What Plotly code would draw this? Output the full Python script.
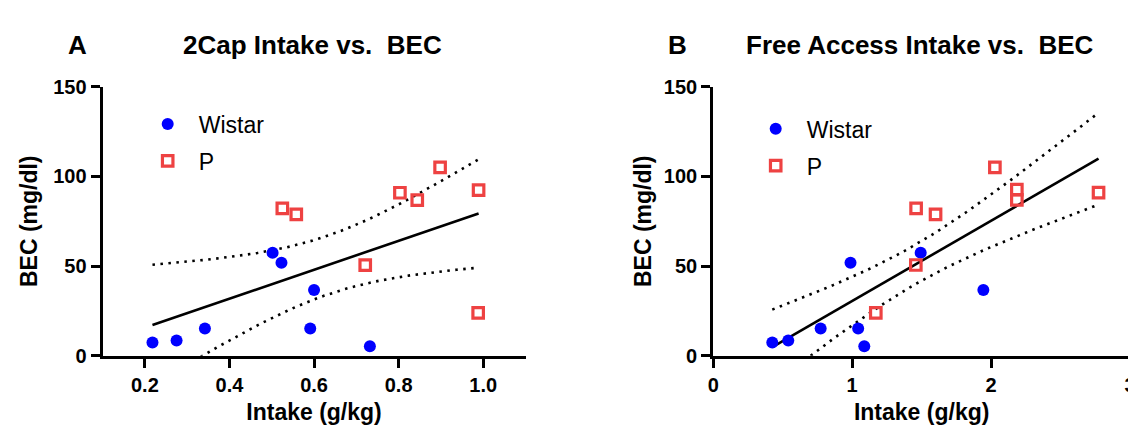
import numpy as np
import plotly.graph_objects as go

# ---------------- data ----------------
# Panel A: 2Cap intake (g/kg) vs BEC (mg/dl)
a_wistar_x = [0.218, 0.275, 0.342, 0.502, 0.523, 0.600, 0.591, 0.732]
a_wistar_y = [7.4, 8.5, 15.2, 57.4, 51.8, 36.6, 15.2, 5.3]
a_p_x = [0.525, 0.558, 0.803, 0.844, 0.898, 0.989, 0.721, 0.988]
a_p_y = [82.2, 78.9, 90.9, 86.8, 105.1, 92.4, 50.5, 23.9]

# Panel B: Free access intake (g/kg) vs BEC (mg/dl)
b_wistar_x = [0.425, 0.540, 0.773, 0.988, 1.043, 1.087, 1.493, 1.944]
b_wistar_y = [7.4, 8.5, 15.2, 51.8, 15.2, 5.3, 57.4, 36.6]
b_p_x = [1.460, 1.600, 2.027, 2.185, 2.185, 2.773, 1.458, 1.170]
b_p_y = [82.2, 78.9, 105.1, 92.6, 86.9, 91.0, 50.6, 23.9]

a_xticks = [0.2, 0.4, 0.6, 0.8, 1.0]
b_xticks = [0, 1, 2, 3]
y_ticks = [0, 50, 100, 150]

T_CRIT = 2.1448  # t(0.975, df=14)

W, H = 1136, 427
FONT = "Liberation Sans, Arial, sans-serif"
BLUE = "#0000FF"
RED = "#EE4242"


def fit_with_ci(xs, ys, n_pts=60):
    x = np.asarray(xs, float)
    y = np.asarray(ys, float)
    n = len(x)
    slope, intercept = np.polyfit(x, y, 1)
    resid = y - (slope * x + intercept)
    s = np.sqrt(np.sum(resid ** 2) / (n - 2))
    xbar = x.mean()
    sxx = np.sum((x - xbar) ** 2)
    xg = np.linspace(x.min(), x.max(), n_pts)
    yg = slope * xg + intercept
    half = T_CRIT * s * np.sqrt(1.0 / n + (xg - xbar) ** 2 / sxx)
    return xg, yg, yg - half, yg + half


fig = go.Figure()


def add_panel(wx, wy, px, py, xa, ya, legend):
    xs = list(wx) + list(px)
    ys = list(wy) + list(py)
    xg, yg, lo, hi = fit_with_ci(xs, ys)
    for band in (lo, hi):
        fig.add_trace(go.Scatter(x=xg, y=band, mode="lines", xaxis=xa, yaxis=ya,
                                 line=dict(color="black", width=2.6, dash="2.5px,5.5px"),
                                 showlegend=False, hoverinfo="skip"))
    fig.add_trace(go.Scatter(x=xg, y=yg, mode="lines", xaxis=xa, yaxis=ya,
                             line=dict(color="black", width=2.6),
                             showlegend=False, hoverinfo="skip"))
    fig.add_trace(go.Scatter(x=wx, y=wy, mode="markers", name="Wistar", xaxis=xa, yaxis=ya,
                             marker=dict(symbol="circle", size=12, color=BLUE),
                             legend=legend, legendgroup=legend + "w"))
    fig.add_trace(go.Scatter(x=px, y=py, mode="markers", name="P", xaxis=xa, yaxis=ya,
                             marker=dict(symbol="square-open", size=10.5, color=RED,
                                         line=dict(color=RED, width=3.2)),
                             legend=legend, legendgroup=legend + "p"))


add_panel(a_wistar_x, a_wistar_y, a_p_x, a_p_y, "x", "y", "legend")
add_panel(b_wistar_x, b_wistar_y, b_p_x, b_p_y, "x2", "y2", "legend2")

tickfont = dict(family=FONT, size=20, color="black", weight="bold")
titlefont = dict(family=FONT, size=23, color="black", weight="bold")

y_dom = [(H - 355) / H, (H - 71.5) / H]
common_axis = dict(showline=True, linewidth=3, linecolor="black", ticks="outside",
                   ticklen=9, tickwidth=3, tickcolor="black", showgrid=False,
                   zeroline=False, tickfont=tickfont, ticklabeloverflow="allow")

legend_font = dict(family=FONT, size=23, color="black")

fig.update_layout(
    width=W, height=H,
    margin=dict(l=0, r=0, t=0, b=0),
    paper_bgcolor="white", plot_bgcolor="white",
    showlegend=True,
    xaxis=dict(domain=[89.5 / W, 517 / W], range=[0.1, 1.1], tickvals=a_xticks,
               tickformat=".1f", anchor="y",
               title=dict(text="Intake (g/kg)", font=titlefont, standoff=10),
               **common_axis),
    yaxis=dict(domain=y_dom, range=[0, 150], tickvals=y_ticks, anchor="x",
               title=dict(text="BEC (mg/dl)", font=titlefont, standoff=10),
               **common_axis),
    xaxis2=dict(domain=[706.7 / W, 1128 / W], range=[0, 3], tickvals=b_xticks,
                anchor="y2",
                title=dict(text="Intake (g/kg)", font=titlefont, standoff=10),
                **common_axis),
    yaxis2=dict(domain=y_dom, range=[0, 150], tickvals=y_ticks, anchor="x2",
                title=dict(text="BEC (mg/dl)", font=titlefont, standoff=6),
                **common_axis),
    legend=dict(x=124 / W, y=1 - 88 / H, xanchor="left", yanchor="top",
                font=legend_font, bgcolor="rgba(0,0,0,0)", tracegroupgap=4,
                itemwidth=52),
    legend2=dict(x=738.5 / W, y=1 - 93 / H, xanchor="left", yanchor="top",
                 font=legend_font, bgcolor="rgba(0,0,0,0)", tracegroupgap=4,
                 itemwidth=52),
)

ann_font = dict(family=FONT, size=26, color="black", weight="bold")
for text, xc in [("A", 63.7), ("2Cap Intake vs.\u00a0 BEC", 301.5),
                 ("B", 670.3), ("Free Access Intake vs.\u00a0 BEC", 916)]:
    fig.add_annotation(text=text, x=xc / W, y=1 - 27.5 / H, xref="paper", yref="paper",
                       xanchor="center", yanchor="middle", showarrow=False, font=ann_font)

fig.write_html("out.html")
